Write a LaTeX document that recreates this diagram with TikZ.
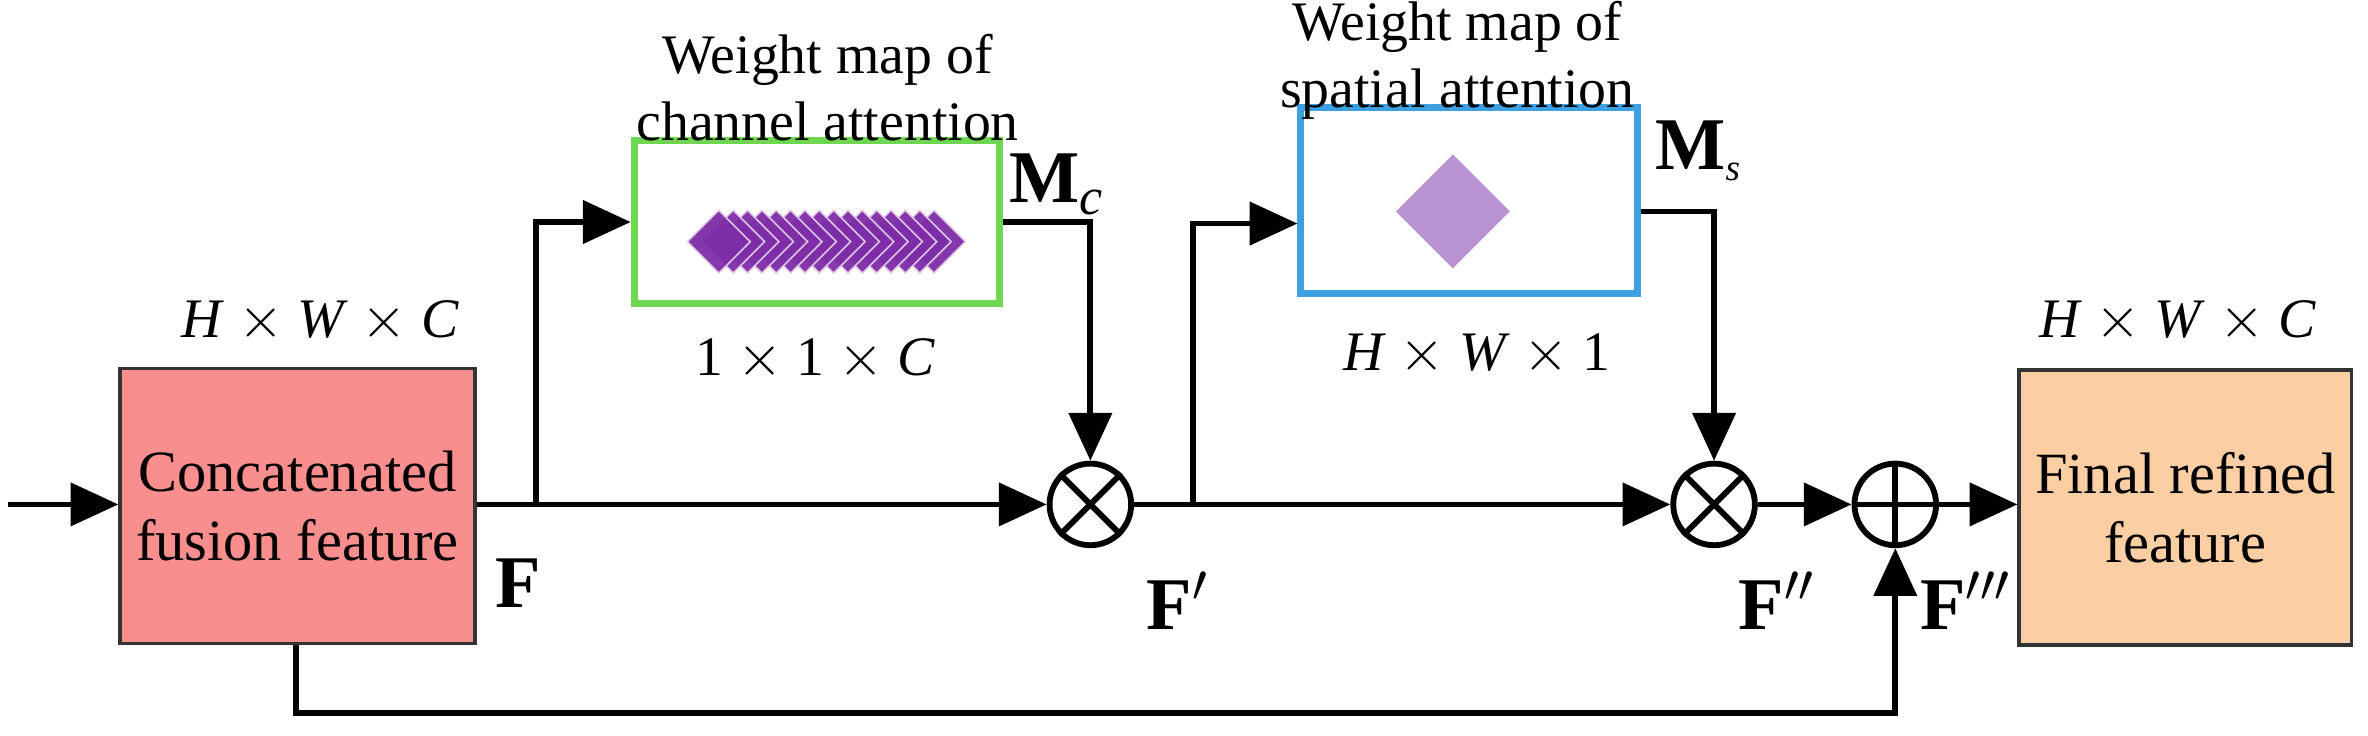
\documentclass[tikz,border=0pt]{standalone}
\usepackage{fontspec}
\setmainfont{Liberation Serif}
\usetikzlibrary{arrows.meta,shapes.geometric}
\begin{document}
\begin{tikzpicture}[x=0.01cm,y=-0.01cm,
  line/.style={line width=1.1pt},
  arr/.style={line, -{Triangle[length=9pt,width=8pt]}},
  op/.style={circle,draw,line width=1.1pt,minimum size=0.54cm,inner sep=0pt},
  lbl/.style={font=\fontsize{10.5}{12.5}\selectfont},
  bf/.style={font=\fontsize{14}{16}\selectfont\bfseries},
  blk/.style={draw=black!80,line width=0.6pt,minimum width=2.35cm,minimum height=1.82cm,inner sep=1pt,align=center,font=\fontsize{11}{13}\selectfont}]
\useasboundingbox (0,0) rectangle (1568,487);
\node[blk,fill={rgb,255:red,249;green,142;blue,142}] (cf) at (197,335) {Concatenated\\fusion feature};
\node[blk,fill={rgb,255:red,252;green,206;blue,164},minimum width=2.2cm] (fr) at (1447,336) {Final refined\\feature};
\node[lbl] (d1) at (212,213) {\textit{H} $\times$ \textit{W} $\times$ \textit{C}};
\node[lbl] (d2) at (1442,213) {\textit{H} $\times$ \textit{W} $\times$ \textit{C}};
\coordinate (in) at (5,334);
\draw[arr] (in) -- (cf.west|-in);
\node[op] (m1) at (722,334) {};
\draw[line] (m1.north west)--(m1.south east) (m1.north east)--(m1.south west);
\node[op] (m2) at (1135,334) {};
\draw[line] (m2.north west)--(m2.south east) (m2.north east)--(m2.south west);
\node[op] (p1) at (1255,334) {};
\draw[line] (p1.north)--(p1.south) (p1.west)--(p1.east);
% channel box
\node[draw={rgb,255:red,110;green,214;blue,80},line width=1.3pt,minimum width=2.42cm,minimum height=1.08cm] (cb) at (541,147) {};
\foreach \i in {15,14,...,0} {
  \node[diamond,fill={rgb,255:red,125;green,45;blue,168},draw=white!80!violet,line width=0.3pt,minimum width=0.42cm,minimum height=0.42cm,inner sep=0pt,opacity=0.95] at (476+\i*9.5,160) {};
}
\node[lbl,align=center] (t1) at (548,58) {Weight map of\\channel attention};
\node[lbl] (s1) at (540,238) {1 $\times$ 1 $\times$ \textit{C}};
\node[bf] (mc) at (700,122) {M$_{\mathit{c}}$};
% spatial box
\node[draw={rgb,255:red,60;green,160;blue,225},line width=1.3pt,minimum width=2.23cm,minimum height=1.23cm] (sb) at (973,133) {};
\node[diamond,fill={rgb,255:red,184;green,146;blue,210},minimum width=0.76cm,minimum height=0.76cm,inner sep=0pt] (sd) at (962,140) {};
\node[lbl,align=center] (t2) at (965,40) {Weight map of\\spatial attention};
\node[bf] (ms) at (1125,100) {M$_{\scriptscriptstyle\mathit{s}}$};
\node[lbl] (s2) at (978,235) {\textit{H} $\times$ \textit{W} $\times$ 1};
% labels
\node[bf] at (343,386) {F};
\node[bf] at (780,398) {F$'$};
\node[bf] at (1177,398) {F$''$};
\node[bf] at (1302,398) {F$'''$};
% connectors
\coordinate (b1) at (355,334);
\coordinate (b2) at (790,334);
\draw[line] (cf.east|-b1) -- (b1);
\draw[arr] (b1) -- (m1.west);
\draw[arr] (b1) |- (cb.west);
\draw[arr] (cb.east) -| (m1.north);
\draw[arr] (m1.east) -- (m2.west);
\draw[arr] (b2) |- ([yshift=-0.15cm]sb.west);
\draw[arr] ([yshift=-0.07cm]sb.east) -| (m2.north);
\draw[arr] (m2.east) -- (p1.west);
\draw[arr] (p1.east) -- (fr.west|-p1);
\coordinate (bl) at (196,472);
\draw[arr] (cf.south-|bl) -- (bl) -| (p1.south);
\end{tikzpicture}
\end{document}
